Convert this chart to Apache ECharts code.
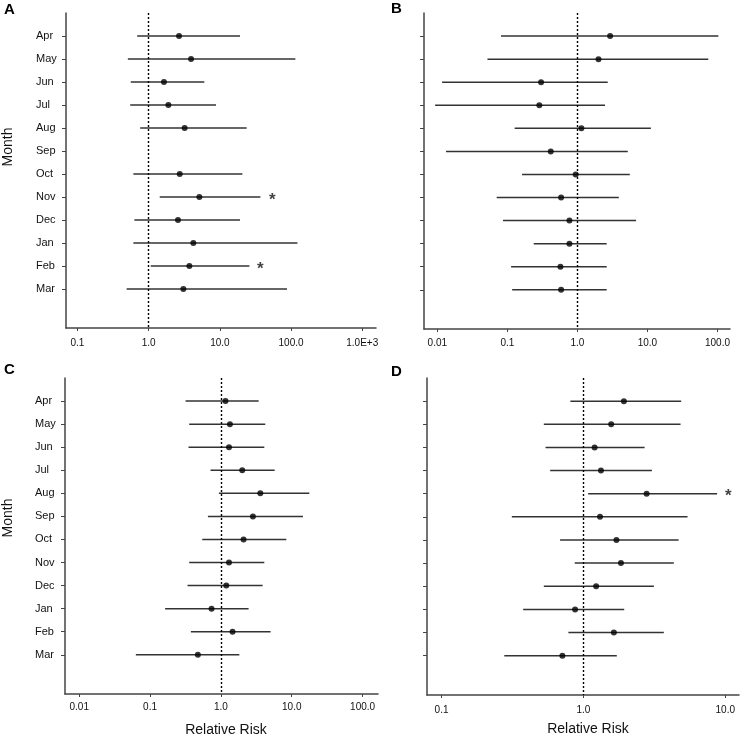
<!DOCTYPE html>
<html>
<head>
<meta charset="utf-8">
<script src="https://cdn.jsdelivr.net/npm/echarts@6/dist/echarts.min.js"></script>
<style>
  html, body { margin: 0; padding: 0; background: #fff; }
  #main { width: 740px; height: 742px; }
</style>
</head>
<body>
<div id="main"></div>
<script>
// 月份（纵轴）
var months = ['Apr', 'May', 'Jun', 'Jul', 'Aug', 'Sep', 'Oct', 'Nov', 'Dec', 'Jan', 'Feb', 'Mar'];

// A 面板 (Sep 无数据)
var rrA = [2.67, 3.94, 1.64, 1.89, 3.2, null, 2.73, 5.15, 2.58, 4.24, 3.73, 3.07];
var loA = [0.69, 0.51, 0.56, 0.55, 0.76, null, 0.61, 1.43, 0.63, 0.61, 1.07, 0.49];
var hiA = [19.2, 115, 6.05, 8.83, 23.8, null, 20.7, 37.1, 19.2, 123, 26, 87.8];

// B 面板
var rrB = [2.93, 2.0, 0.303, 0.286, 1.14, 0.416, 0.946, 0.585, 0.769, 0.769, 0.572, 0.585];
var loB = [0.081, 0.052, 0.0117, 0.0093, 0.127, 0.0133, 0.162, 0.0704, 0.0867, 0.238, 0.113, 0.117];
var hiB = [103, 74, 2.71, 2.48, 11.2, 5.24, 5.6, 3.9, 6.89, 2.62, 2.62, 2.62];

// C 面板
var rrC = [1.16, 1.34, 1.30, 2.0, 3.6, 2.83, 2.09, 1.30, 1.19, 0.738, 1.46, 0.473];
var loC = [0.317, 0.357, 0.349, 0.714, 0.937, 0.655, 0.545, 0.357, 0.338, 0.163, 0.377, 0.063];
var hiC = [3.41, 4.23, 4.1, 5.74, 17.7, 14.4, 8.38, 4.1, 3.88, 2.46, 5.03, 1.82];

// D 面板
var rrD = [1.93, 1.57, 1.2, 1.33, 2.79, 1.31, 1.71, 1.84, 1.23, 0.874, 1.64, 0.711];
var loD = [0.81, 0.526, 0.541, 0.583, 1.08, 0.313, 0.685, 0.869, 0.526, 0.376, 0.784, 0.277];
var hiD = [4.89, 4.84, 2.7, 3.04, 8.76, 5.42, 4.69, 4.34, 3.14, 1.94, 3.69, 1.72];

// 显著性星号
var starMonthsA = ['Nov', 'Feb'];
var starXA = [54.7, 37];
var starMonthsD = ['Aug'];
var starXD = [10.5];

// 横轴刻度
var ticksA = [0.1, 1, 10, 100, 1000];
var tickLabelsA = ['0.1', '1.0', '10.0', '100.0', '1.0E+3'];
var ticksBC = [0.01, 0.1, 1, 10, 100];
var tickLabelsBC = ['0.01', '0.1', '1.0', '10.0', '100.0'];
var ticksD = [0.1, 1, 10];
var tickLabelsD = ['0.1', '1.0', '10.0'];

var FONT = 'Liberation Sans, Arial, Helvetica, sans-serif';
var monthPos = months.map(function (m, i) { return i + 1; });

function barData(lo, hi) {
    var out = [];
    for (var i = 0; i < months.length; i++) {
        if (lo[i] == null) continue;
        out.push([lo[i], hi[i], i + 1]);
    }
    return out;
}
function pointData(rr) {
    var out = [];
    for (var i = 0; i < months.length; i++) {
        if (rr[i] == null) continue;
        out.push([rr[i], i + 1]);
    }
    return out;
}
function starData(ms, xs) {
    return ms.map(function (m, i) { return [xs[i], months.indexOf(m) + 1]; });
}

function renderBar(params, api) {
    var y = api.value(2);
    var p1 = api.coord([api.value(0), y]);
    var p2 = api.coord([api.value(1), y]);
    return {
        type: 'line',
        shape: { x1: p1[0], y1: p1[1], x2: p2[0], y2: p2[1] },
        style: { stroke: '#333', lineWidth: 1.5 }
    };
}

function makeX(idx, min, max, ticks, labels, margin) {
    return {
        type: 'log', logBase: 10, gridIndex: idx, min: min, max: max,
        position: 'bottom',
        axisLine: { onZero: false, lineStyle: { color: '#444', width: 1.5 } },
        axisTick: { show: true, length: 3, customValues: ticks, lineStyle: { color: '#444' } },
        axisLabel: {
            customValues: ticks, margin: margin, color: '#111', fontSize: 10, fontFamily: FONT,
            formatter: function (v) {
                for (var i = 0; i < ticks.length; i++) {
                    if (Math.abs(Math.log10(v) - Math.log10(ticks[i])) < 1e-6) return labels[i];
                }
                return '';
            }
        },
        splitLine: { show: false }
    };
}

function makeY(idx, showLabels) {
    return {
        type: 'value', gridIndex: idx, inverse: true, min: 0, max: 13.7,
        axisLine: { show: true, onZero: false, lineStyle: { color: '#444', width: 1.5 } },
        axisTick: { show: true, length: 4, customValues: monthPos, lineStyle: { color: '#444' } },
        axisLabel: {
            show: showLabels, customValues: monthPos, margin: 30, align: 'left',
            color: '#111', fontSize: 11, fontFamily: FONT,
            formatter: function (v) { return months[Math.round(v) - 1] || ''; }
        },
        splitLine: { show: false }
    };
}

function panelSeries(idx, rr, lo, hi, stars) {
    var list = [{
        type: 'custom', xAxisIndex: idx, yAxisIndex: idx,
        renderItem: renderBar, data: barData(lo, hi),
        encode: { x: [0, 1], y: 2 }, silent: true
    }, {
        type: 'scatter', xAxisIndex: idx, yAxisIndex: idx,
        symbol: 'circle', symbolSize: 6,
        itemStyle: { color: '#000' },
        data: pointData(rr), z: 5,
        markLine: {
            silent: true, symbol: ['none', 'none'], label: { show: false },
            lineStyle: { color: '#000', type: [2, 2], width: 1.4 },
            data: [{ xAxis: 1 }]
        }
    }];
    if (stars) {
        list.push({
            type: 'scatter', xAxisIndex: idx, yAxisIndex: idx,
            symbolSize: 0, data: stars, silent: true,
            label: {
                show: true, position: 'inside', formatter: '*',
                fontSize: 17, fontWeight: 'bold', color: '#111', fontFamily: FONT, offset: [0, 3]
            }
        });
    }
    return list;
}

// 轴标题
function axisTitle(text, x, y, rotate) {
    return {
        type: 'text', x: x, y: y, rotation: rotate ? Math.PI / 2 : 0,
        style: {
            text: text, font: '14px ' + FONT, fill: '#111',
            align: 'center', verticalAlign: 'middle'
        }
    };
}

var chart = echarts.init(document.getElementById('main'));

var option = {
    backgroundColor: '#fff',
    animation: false,
    grid: [
        { left: 66, top: 13, width: 310, height: 315 },
        { left: 424, top: 13, width: 306, height: 316 },
        { left: 65, top: 378, width: 313, height: 316 },
        { left: 427, top: 378, width: 312, height: 317 }
    ],
    xAxis: [
        makeX(0, 0.069, 1560, ticksA, tickLabelsA, 10),
        makeX(1, 0.00645, 151, ticksBC, tickLabelsBC, 9),
        makeX(2, 0.0063, 165, ticksBC, tickLabelsBC, 8),
        makeX(3, 0.079, 12.5, ticksD, tickLabelsD, 10)
    ],
    yAxis: [makeY(0, true), makeY(1, false), makeY(2, true), makeY(3, false)],
    graphic: [
        { type: 'text', left: 4, top: 2, style: { text: 'A', font: 'bold 15px ' + FONT, fill: '#000' } },
        { type: 'text', left: 391, top: 1, style: { text: 'B', font: 'bold 15px ' + FONT, fill: '#000' } },
        { type: 'text', left: 4, top: 362, style: { text: 'C', font: 'bold 15px ' + FONT, fill: '#000' } },
        { type: 'text', left: 391, top: 364, style: { text: 'D', font: 'bold 15px ' + FONT, fill: '#000' } },
        axisTitle('Month', 8, 147, true),
        axisTitle('Month', 8, 518, true),
        axisTitle('Relative Risk', 226, 730, false),
        axisTitle('Relative Risk', 588, 729, false)
    ],
    series: [].concat(
        panelSeries(0, rrA, loA, hiA, starData(starMonthsA, starXA)),
        panelSeries(1, rrB, loB, hiB, null),
        panelSeries(2, rrC, loC, hiC, null),
        panelSeries(3, rrD, loD, hiD, starData(starMonthsD, starXD))
    )
};

chart.setOption(option);
</script>
</body>
</html>
